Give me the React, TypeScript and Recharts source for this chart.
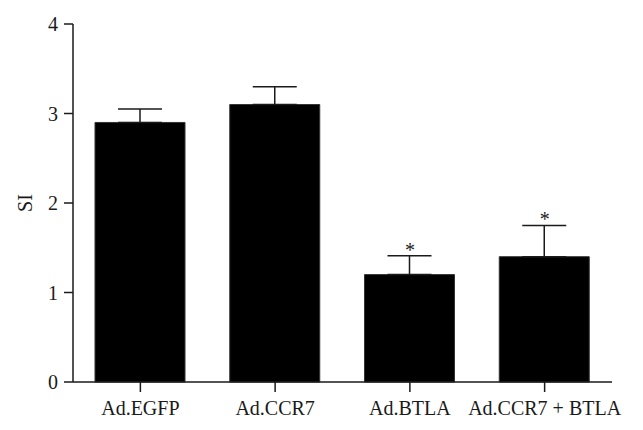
import { ComposedChart, Bar, Scatter, ErrorBar, XAxis, YAxis } from 'recharts';

const groups = ['Ad.EGFP', 'Ad.CCR7', 'Ad.BTLA', 'Ad.CCR7 + BTLA'];
const siMeans = [2.9, 3.1, 1.2, 1.4];
const siErrors = [0.15, 0.2, 0.21, 0.35];
const significant = [false, false, true, true];
const yTicks = [0, 1, 2, 3, 4];

const FONT = "'Liberation Serif', 'Times New Roman', serif";
const INK = '#1a1a1a';

const data = groups.map((g, i) => ({
  group: g,
  si: siMeans[i],
  err: [0, siErrors[i]],
  star: significant[i] ? siMeans[i] + siErrors[i] : null,
}));

// asterisk drawn just above the error bar cap
function StarMark(props: any) {
  const { cx, cy, payload } = props;
  if (payload?.star == null || cx == null || cy == null) return null;
  return (
    <text x={cx} y={cy + 1} textAnchor="middle" fontFamily={FONT} fontSize={20} fill={INK}>
      *
    </text>
  );
}

export default function App() {
  return (
    <ComposedChart
      width={627}
      height={414}
      data={data}
      margin={{ top: 16, right: 23, bottom: 0, left: 0 }}
      style={{ fontFamily: FONT }}
    >
      <XAxis
        dataKey="group"
        height={40}
        tickSize={10}
        tickMargin={9}
        tick={{ fill: INK, fontSize: 20, fontFamily: FONT }}
        axisLine={{ stroke: INK, strokeWidth: 1.5 }}
        tickLine={{ stroke: INK, strokeWidth: 1.5 }}
        interval={0}
      />
      <YAxis
        width={65}
        domain={[0, 4]}
        ticks={yTicks}
        tickSize={9}
        tickMargin={6}
        tick={{ fill: INK, fontSize: 20, fontFamily: FONT }}
        axisLine={{ stroke: INK, strokeWidth: 1.5 }}
        tickLine={{ stroke: INK, strokeWidth: 1.5 }}
        label={{ value: 'SI', angle: -90, position: 'center', dx: -16, fill: INK, fontSize: 20, fontFamily: FONT }}
      />
      <Bar dataKey="si" fill="#000" stroke="#333" strokeWidth={1} barSize={90} isAnimationActive={false}>
        <ErrorBar dataKey="err" direction="y" width={22} stroke={INK} strokeWidth={1.5} />
      </Bar>
      <Scatter dataKey="star" shape={<StarMark />} isAnimationActive={false} />
    </ComposedChart>
  );
}
